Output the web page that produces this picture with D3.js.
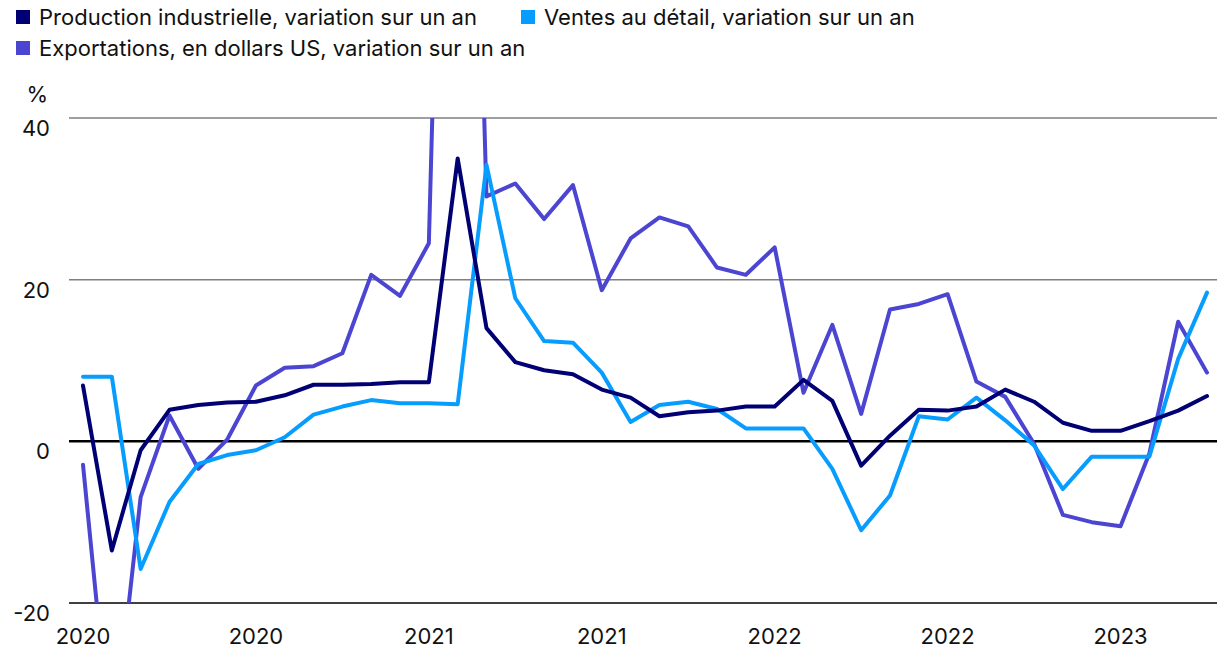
<!DOCTYPE html>
<html>
<head>
  <meta charset="utf-8">
  <title>Chine - indicateurs</title>
  <script src="https://cdn.jsdelivr.net/npm/d3@7"></script>
  <style>
    body { margin: 0; background: #fff; }
    text { font-family: Inter, "Noto Sans", sans-serif; fill: #111; }
  </style>
</head>
<body>
<svg id="chart" width="1217" height="650"></svg>
<script>
  // monthly points, Jan 2020 -> Apr 2023
  var months = d3.range(40);
  var tickIdx = [0, 6, 12, 18, 24, 30, 36];
  var tickLabels = ["2020", "2020", "2021", "2021", "2022", "2022", "2023"];
  var yTicks = [-20, 0, 20, 40];

  var production = [6.9, -13.5, -1.1, 3.9, 4.5, 4.8, 4.9, 5.7, 7.0, 7.0,
    7.1, 7.3, 7.3, 35.0, 14.0, 9.8, 8.8, 8.3, 6.4, 5.4,
    3.1, 3.6, 3.8, 4.3, 4.3, 7.6, 5.0, -3.0, 0.7, 3.9,
    3.8, 4.3, 6.4, 4.9, 2.3, 1.3, 1.3, 2.5, 3.8, 5.6];
  var ventes = [8.0, 8.0, -15.8, -7.5, -2.8, -1.7, -1.1, 0.5, 3.3, 4.3,
    5.1, 4.7, 4.7, 4.6, 34.2, 17.7, 12.4, 12.2, 8.5, 2.4,
    4.5, 4.9, 4.0, 1.6, 1.6, 1.6, -3.4, -11.0, -6.7, 3.1,
    2.7, 5.4, 2.6, -0.5, -5.9, -1.9, -1.9, -1.9, 10.2, 18.4];
  var exportations = [-2.9, -39, -6.9, 3.2, -3.4, 0.2, 6.9, 9.1, 9.3, 10.9,
    20.6, 18.0, 24.5, 155, 30.3, 31.9, 27.5, 31.7, 18.7, 25.1,
    27.7, 26.6, 21.5, 20.6, 24.0, 6.0, 14.4, 3.4, 16.3, 17.0,
    18.2, 7.4, 5.5, -0.3, -9.1, -10.0, -10.5, -1.5, 14.8, 8.5];

  var seriesNames = ["Production industrielle, variation sur un an",
    "Ventes au détail, variation sur un an",
    "Exportations, en dollars US, variation sur un an"];
  var colors = ["#000074", "#079dff", "#4b45d1"];

  var svg = d3.select("#chart");
  var plotLeft = 69, plotRight = 1217, plotTop = 118, plotBottom = 603;

  var x = d3.scaleLinear().domain([0, 39]).range([83, 1207]);
  var y = d3.scaleLinear().domain([-20, 40]).range([plotBottom, plotTop]);

  // grid
  svg.selectAll("line.grid")
    .data(yTicks)
    .enter().append("line")
    .attr("x1", plotLeft).attr("x2", plotRight)
    .attr("y1", function(d){ return y(d); })
    .attr("y2", function(d){ return y(d); })
    .attr("stroke", function(d){ return d > 0 ? "#7f7f7f" : "#000"; })
    .attr("stroke-width", function(d){ return d === 0 ? 2.5 : 1.5; });

  svg.selectAll("text.ylab")
    .data(yTicks)
    .enter().append("text")
    .attr("x", 50)
    .attr("y", function(d){ return y(d) + 18; })
    .attr("text-anchor", "end")
    .style("font-size", "22px")
    .text(function(d){ return d; });

  svg.append("text").attr("x", 48).attr("y", 102)
    .attr("text-anchor", "end").style("font-size", "22px").text("%");

  // x labels
  svg.selectAll("text.xlab")
    .data(tickIdx)
    .enter().append("text")
    .attr("x", function(d){ return x(d); })
    .attr("y", 644)
    .attr("text-anchor", "middle")
    .style("font-size", "22px")
    .text(function(d, i){ return tickLabels[i]; });

  // lines
  svg.append("clipPath").attr("id", "plot")
    .append("rect").attr("x", plotLeft).attr("y", plotTop)
    .attr("width", plotRight - plotLeft).attr("height", plotBottom - plotTop);

  var line = d3.line()
    .x(function(d, i){ return x(months[i]); })
    .y(function(d){ return y(d); });

  var order = [2, 1, 0];
  var all = [production, ventes, exportations];
  svg.append("g").attr("clip-path", "url(#plot)")
    .selectAll("path")
    .data(order)
    .enter().append("path")
    .attr("d", function(k){ return line(all[k]); })
    .attr("fill", "none")
    .attr("stroke", function(k){ return colors[k]; })
    .attr("stroke-width", 4)
    .attr("stroke-linejoin", "round")
    .attr("stroke-linecap", "round");

  // legend
  var legendPos = [[16, 10], [521, 10], [16, 41]];
  var lg = svg.selectAll("g.legend")
    .data(seriesNames)
    .enter().append("g")
    .attr("transform", function(d, i){
      return "translate(" + legendPos[i][0] + "," + legendPos[i][1] + ")";
    });
  lg.append("rect").attr("width", 14).attr("height", 14)
    .attr("fill", function(d, i){ return colors[i]; });
  lg.append("text").attr("x", 23).attr("y", 15)
    .style("font-size", "22px")
    .text(function(d){ return d; });
</script>
</body>
</html>
